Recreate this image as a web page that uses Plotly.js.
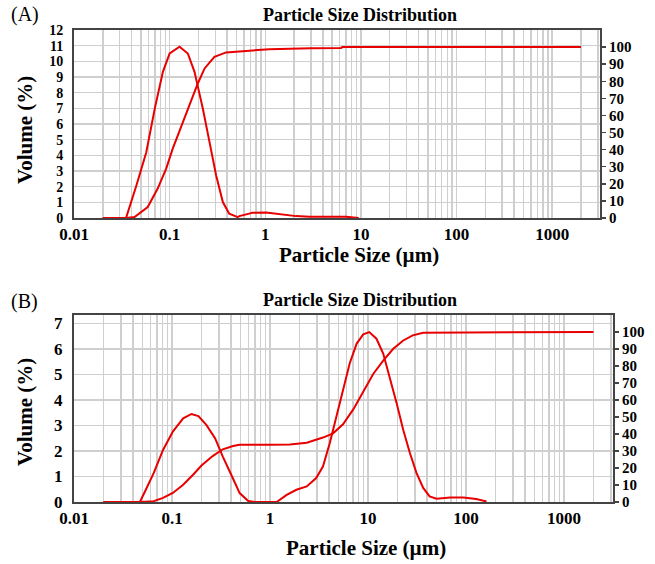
<!DOCTYPE html>
<html>
<head>
<meta charset="utf-8">
<script src="https://cdn.plot.ly/plotly-3.0.1.min.js"></script>
<style>html,body{margin:0;padding:0;background:#fff;}#chart{width:655px;height:564px;}</style>
</head>
<body>
<div id="chart"></div>
<script>
// ---- Panel A data ----
const sizeA_freq = [0.02, 0.035, 0.045, 0.057, 0.070, 0.085, 0.1, 0.127, 0.155, 0.182, 0.197, 0.222, 0.261, 0.306, 0.36, 0.42, 0.515, 0.536, 0.68, 0.73, 1.02, 1.5, 2.1, 2.9, 4.6, 7.0, 9.5];
const volA_freq  = [0, 0, 2.09, 4.2, 7.0, 9.33, 10.5, 10.93, 10.5, 9.33, 8.4, 7.0, 4.86, 2.73, 1.02, 0.28, 0.06, 0.12, 0.28, 0.33, 0.35, 0.24, 0.12, 0.08, 0.09, 0.08, 0];
const sizeA_cum  = [0.02, 0.035, 0.043, 0.059, 0.075, 0.092, 0.108, 0.138, 0.168, 0.197, 0.232, 0.294, 0.39, 0.68, 1.1, 3.0, 6.2, 6.4, 2000];
const cumA       = [0, 0, 0.6, 6.4, 17.2, 28.9, 40.7, 56.2, 69, 78.7, 87.5, 94.3, 96.9, 97.9, 98.8, 99.3, 99.5, 100, 100];

// ---- Panel B data ----
const sizeB_freq = [0.02, 0.047, 0.053, 0.065, 0.081, 0.102, 0.13, 0.158, 0.186, 0.224, 0.275, 0.33, 0.41, 0.49, 0.6, 0.70, 1.17, 1.48, 1.86, 2.37, 2.96, 3.47, 4.07, 4.75, 5.56, 6.5, 7.66, 8.95, 10.3, 12.2, 14.3, 16.7, 19.6, 22.9, 26.8, 31.3, 36.6, 42.5, 50, 69, 94, 127, 162];
const volB_freq  = [0, 0, 0.41, 1.13, 2.04, 2.76, 3.28, 3.45, 3.37, 3.02, 2.5, 1.78, 1.0, 0.35, 0.04, 0, 0, 0.28, 0.48, 0.61, 0.94, 1.39, 2.3, 3.34, 4.39, 5.43, 6.21, 6.57, 6.66, 6.4, 5.82, 4.9, 3.87, 2.82, 1.91, 1.13, 0.55, 0.22, 0.13, 0.18, 0.18, 0.12, 0.02];
const sizeB_cum  = [0.02, 0.047, 0.065, 0.081, 0.102, 0.13, 0.165, 0.2, 0.26, 0.33, 0.42, 0.49, 1.0, 1.6, 2.37, 3.47, 4.4, 5.56, 7.1, 8.95, 11.3, 14.3, 18.1, 22.9, 28.6, 36.6, 116, 118, 2000];
const cumB       = [0, 0, 0.5, 2.4, 5.3, 10.2, 16.2, 21.5, 27, 31, 32.9, 33.7, 33.7, 33.8, 34.9, 37.9, 40.4, 45.7, 54.6, 64.5, 75.3, 83.2, 90.1, 95, 98, 99.6, 99.6, 100, 100];

// ---- Axis labels ----
const xTickVals = [0.01, 0.1, 1, 10, 100, 1000];
const xTickText = ['0.01', '0.1', '1', '10', '100', '1000'];
const rightTickVals = [0, 10, 20, 30, 40, 50, 60, 70, 80, 90, 100];

const minorVals = [];
for (let e = -2; e <= 3; e++) for (let m = 2; m <= 9; m++) minorVals.push(m * Math.pow(10, e));

const red = 'rgb(232,0,0)';
const serif = 'Liberation Serif, Times New Roman, serif';
const tickFont = {family: serif, size: 17, color: '#000', weight: 'bold'};
const tickFontTight = {family: serif, size: 14, color: '#000', weight: 'bold'};
const tickFontRight = {family: serif, size: 15, color: '#000', weight: 'bold'};
const gridC = '#cfcfcf';
const frameC = '#444';

function line(x, y, xa, ya) {
  return {x: x, y: y, xaxis: xa, yaxis: ya, type: 'scatter', mode: 'lines',
          line: {color: red, width: 2}, hoverinfo: 'skip', showlegend: false};
}

const traces = [
  line(sizeA_freq, volA_freq, 'x', 'y'),
  line(sizeA_cum, cumA, 'x', 'y3'),
  line(sizeB_freq, volB_freq, 'x2', 'y2'),
  line(sizeB_cum, cumB, 'x2', 'y4')
];

function xAxis(dom, anchor) {
  return {type: 'log', range: [-2, 3.5], domain: dom, anchor: anchor,
    tickmode: 'array', tickvals: xTickVals, ticktext: xTickText, tickfont: tickFont,
    showgrid: true, gridcolor: gridC, gridwidth: 1.5,
    minor: {tickmode: 'array', tickvals: minorVals, showgrid: true, gridcolor: gridC, gridwidth: 1.5, ticks: ''},
    showline: true, linecolor: frameC, linewidth: 2, mirror: true, ticks: '', zeroline: false};
}
function yLeft(dom, anchor, top, n, font) {
  const tv = []; for (let i = 0; i <= n; i++) tv.push(i);
  return {domain: dom, anchor: anchor, range: [0, top], tickmode: 'array', tickvals: tv,
    tickfont: font, showgrid: true, gridcolor: gridC, gridwidth: 1.5, ticklabelstandoff: 6,
    showline: true, linecolor: frameC, linewidth: 2, mirror: true, ticks: '', zeroline: false};
}
function yRight(over, anchor) {
  return {overlaying: over, anchor: anchor, side: 'right', range: [0, 110],
    tickmode: 'array', tickvals: rightTickVals, tickfont: tickFontRight, showgrid: false,
    ticks: 'outside', ticklen: 4, tickcolor: frameC, tickwidth: 1.5,
    showline: true, linecolor: frameC, linewidth: 2, zeroline: false};
}

const topDom = [0.6017, 1];
const botDom = [0, 0.3962];

const titleFont = {family: serif, size: 18, color: '#000', weight: 'bold'};
const axTitleFont = {family: serif, size: 21, color: '#000', weight: 'bold'};
const tagFont = {family: serif, size: 20, color: '#000'};

const layout = {
  width: 655, height: 564,
  margin: {l: 74, r: 42, t: 30, b: 62},
  paper_bgcolor: '#fff', plot_bgcolor: '#fff',
  xaxis: xAxis([0, 526 / 539], 'y'),
  xaxis2: xAxis([0, 1], 'y2'),
  yaxis: yLeft(topDom, 'x', 12, 12, tickFontTight),
  yaxis2: yLeft(botDom, 'x2', 7.33, 7, tickFont),
  yaxis3: yRight('y', 'x'),
  yaxis4: yRight('y2', 'x2'),
  annotations: [
    {text: '(A)', xref: 'paper', yref: 'paper', x: -0.12, y: (502 - 15) / 472, xanchor: 'left', yanchor: 'middle', showarrow: false, font: tagFont},
    {text: 'Particle Size Distribution', xref: 'paper', yref: 'paper', x: (360 - 74) / 539, y: (502 - 15) / 472, xanchor: 'center', yanchor: 'middle', showarrow: false, font: titleFont},
    {text: 'Particle Size (µm)', xref: 'paper', yref: 'paper', x: (359 - 74) / 539, y: (502 - 255) / 472, xanchor: 'center', yanchor: 'middle', showarrow: false, font: axTitleFont},
    {text: 'Volume (%)', xref: 'paper', yref: 'paper', x: (25 - 74) / 539, y: (502 - 130) / 472, xanchor: 'center', yanchor: 'middle', textangle: -90, showarrow: false, font: axTitleFont},
    {text: '(B)', xref: 'paper', yref: 'paper', x: -0.12, y: (502 - 301) / 472, xanchor: 'left', yanchor: 'middle', showarrow: false, font: tagFont},
    {text: 'Particle Size Distribution', xref: 'paper', yref: 'paper', x: (360 - 74) / 539, y: (502 - 300) / 472, xanchor: 'center', yanchor: 'middle', showarrow: false, font: titleFont},
    {text: 'Particle Size (µm)', xref: 'paper', yref: 'paper', x: (366 - 74) / 539, y: (502 - 548) / 472, xanchor: 'center', yanchor: 'middle', showarrow: false, font: axTitleFont},
    {text: 'Volume (%)', xref: 'paper', yref: 'paper', x: (25 - 74) / 539, y: (502 - 412) / 472, xanchor: 'center', yanchor: 'middle', textangle: -90, showarrow: false, font: axTitleFont}
  ]
};

Plotly.newPlot('chart', traces, layout, {staticPlot: true, displayModeBar: false});
</script>
</body>
</html>
